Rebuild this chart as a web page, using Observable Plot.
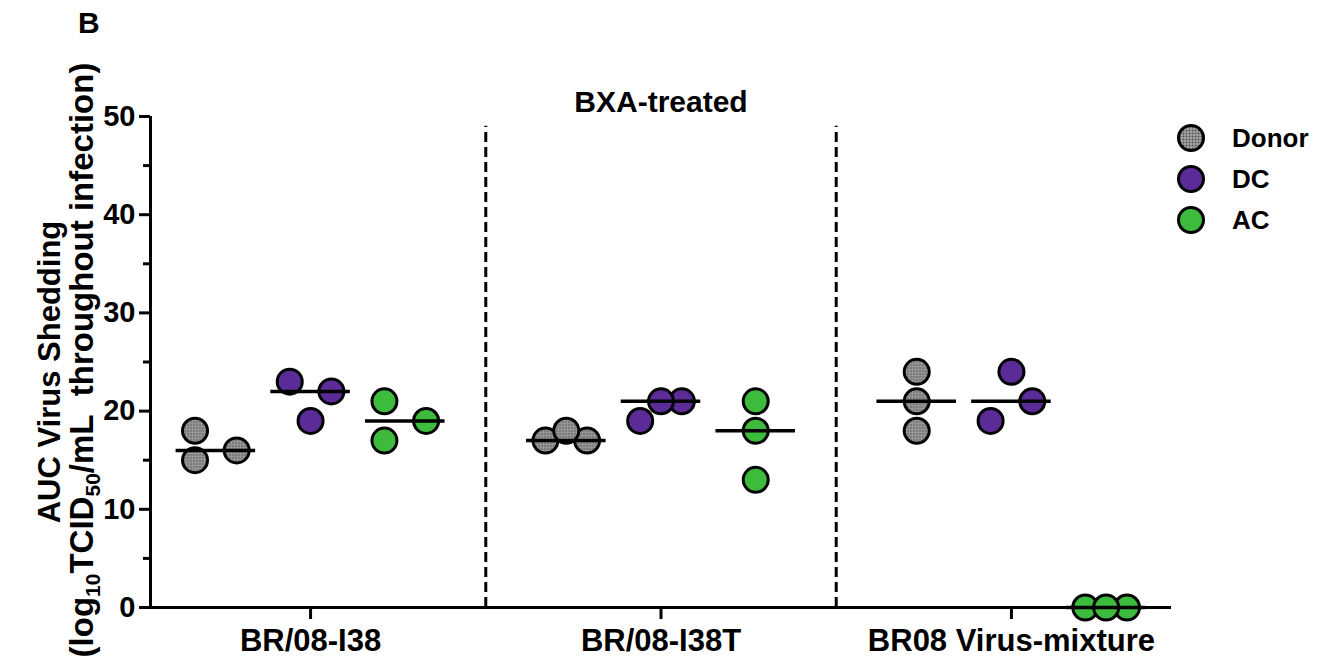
<!DOCTYPE html>
<html><head><meta charset="utf-8">
<script src="https://cdn.jsdelivr.net/npm/d3@7"></script>
<script src="https://cdn.jsdelivr.net/npm/@observablehq/plot@0.6"></script>
<style>
body{margin:0;background:#fff;}
#chart{position:relative;width:1329px;height:663px;}
svg text{font-family:"Liberation Sans",Arial,Helvetica,sans-serif;}
</style>
</head><body><div id="chart"></div>
<script>
// ---- data ----
const groups = ["BR/08-I38", "BR/08-I38T", "BR08 Virus-mixture"];
const series = ["Donor", "DC", "AC"];
const seriesColors = ["#8e8e8e", "#5b2c98", "#3dbb3d"];
const donorValues = [[15, 16, 18], [17, 17, 18], [24, 21, 18]];
const dcValues    = [[23, 22, 19], [19, 21, 21], [24, 19, 21]];
const acValues    = [[21, 19, 17], [21, 18, 13], [0, 0, 0]];
const yTicks = [0, 10, 20, 30, 40, 50];
const yMinorTicks = [5, 15, 25, 35, 45];
const panelTitle = "BXA-treated";
const panelLetter = "B";
const yTitle1 = "AUC Virus Shedding";

// ---- layout helpers ----
const groupStep = 3.7, slotW = 0.22, halfMed = 0.42, pad = 0.69;
const colPos = (g, s) => g * groupStep + s;
const xmin = colPos(0, 0) - pad, xmax = colPos(groups.length - 1, series.length - 1) + pad;

function slotsFor(vals) {
  const thr = 2.5, slots = new Array(vals.length);
  vals.forEach((v, i) => {
    const isolated = vals.every((w, j) => j === i || Math.abs(w - v) >= thr);
    if (isolated) { slots[i] = 0; return; }
    for (const s of [-1, 1, 0]) {
      if (!vals.some((w, j) => j < i && slots[j] === s && Math.abs(w - v) < thr)) { slots[i] = s; return; }
    }
    slots[i] = 0;
  });
  return slots;
}

const bySeries = [donorValues, dcValues, acValues];
const points = [], medians = [];
groups.forEach((gName, g) => {
  series.forEach((sName, s) => {
    const vals = bySeries[s][g];
    const slots = slotsFor(vals);
    vals.forEach((v, i) => points.push({group: gName, series: sName, value: v, x: colPos(g, s) + slots[i] * slotW}));
    medians.push({group: gName, series: sName, value: d3.median(vals), x1: colPos(g, s) - halfMed, x2: colPos(g, s) + halfMed});
  });
});
const tickPos = groups.map((_, g) => colPos(g, 1));
const sepPos = groups.slice(1).map((_, g) => (colPos(g, series.length - 1) + colPos(g + 1, 0)) / 2);
const labelAt = new Map(tickPos.map((p, i) => [p, groups[i]]));

const color = d3.scaleOrdinal(series, seriesColors);

const plot = Plot.plot({
  width: 1329, height: 663,
  marginLeft: 150, marginRight: 158, marginTop: 116, marginBottom: 56,
  style: {fontFamily: "Liberation Sans, Arial, sans-serif", color: "black", background: "white"},
  x: {domain: [xmin, xmax], axis: null},
  y: {domain: [0, 50], axis: null},
  marks: [
    Plot.axisY({ticks: yTicks, tickSize: 11, tickPadding: 4, fontSize: 29, fontWeight: "bold", strokeWidth: 3, label: null}),
    Plot.axisY({ticks: yMinorTicks, tickSize: 7, strokeWidth: 3, tickFormat: () => "", label: null}),
    Plot.axisX({ticks: tickPos, tickFormat: d => labelAt.get(d), tickSize: 12, tickPadding: 9, fontSize: 31, fontWeight: "bold", strokeWidth: 3, label: null}),
    Plot.ruleX([xmin], {y1: 0, y2: 50, strokeWidth: 3}),
    Plot.ruleY([0], {strokeWidth: 3}),
    Plot.ruleX(sepPos, {y1: 0, y2: 49, strokeWidth: 3, strokeDasharray: "10,5"}),
    Plot.dot(points, {x: "x", y: "value", r: 12.5, fill: d => color(d.series), stroke: "black", strokeWidth: 3}),
    Plot.ruleY(medians, {x1: "x1", x2: "x2", y: "value", strokeWidth: 3.5, stroke: "black"}),
    Plot.text([panelTitle], {x: tickPos[1], frameAnchor: "top", dy: -26, fontSize: 30, fontWeight: "bold"})
  ]
});
document.getElementById("chart").appendChild(plot);

// ---- extras: stipple texture, panel letter, y title, legend ----
const svg = d3.select(plot);
const font = "Liberation Sans, Arial, sans-serif";
const pat = svg.append("defs").append("pattern").attr("id", "stipple")
  .attr("width", 3).attr("height", 3).attr("patternUnits", "userSpaceOnUse");
pat.append("rect").attr("width", 3).attr("height", 3).attr("fill", "#a6a6a6");
pat.append("circle").attr("cx", 1.5).attr("cy", 1.5).attr("r", 1).attr("fill", "#505050");
const donorFill = color(series[0]);
svg.selectAll("circle").filter(function () { return this.getAttribute("fill") === donorFill; }).attr("fill", "url(#stipple)");

svg.append("text").attr("x", 78).attr("y", 33).attr("font-size", 30).attr("font-weight", "bold")
  .attr("text-anchor", "start").attr("font-family", font).text(panelLetter);

const yt = svg.append("g").attr("font-family", font).attr("font-weight", "bold").attr("text-anchor", "middle");
yt.append("text").attr("font-size", 31).attr("transform", "translate(60,372) rotate(-90)").text(yTitle1);
const t2 = yt.append("text").attr("font-size", 33).attr("transform", "translate(93,360) rotate(-90)");
t2.append("tspan").text("(log");
t2.append("tspan").attr("font-size", 21).attr("dy", 7).text("10");
t2.append("tspan").attr("dy", -7).text("TCID");
t2.append("tspan").attr("font-size", 21).attr("dy", 7).text("50");
t2.append("tspan").attr("dy", -7).text("/mL\u00a0 throughout infection)");

const lg = svg.append("g").attr("font-family", font).attr("font-weight", "bold").attr("font-size", 26).attr("text-anchor", "start");
series.forEach((s, i) => {
  const cy = 138 + i * 41;
  lg.append("circle").attr("cx", 1191).attr("cy", cy).attr("r", 12.5)
    .attr("fill", i === 0 ? "url(#stipple)" : color(s)).attr("stroke", "black").attr("stroke-width", 3);
  lg.append("text").attr("x", 1232).attr("y", cy + 9).text(s);
});
</script>
</body></html>
